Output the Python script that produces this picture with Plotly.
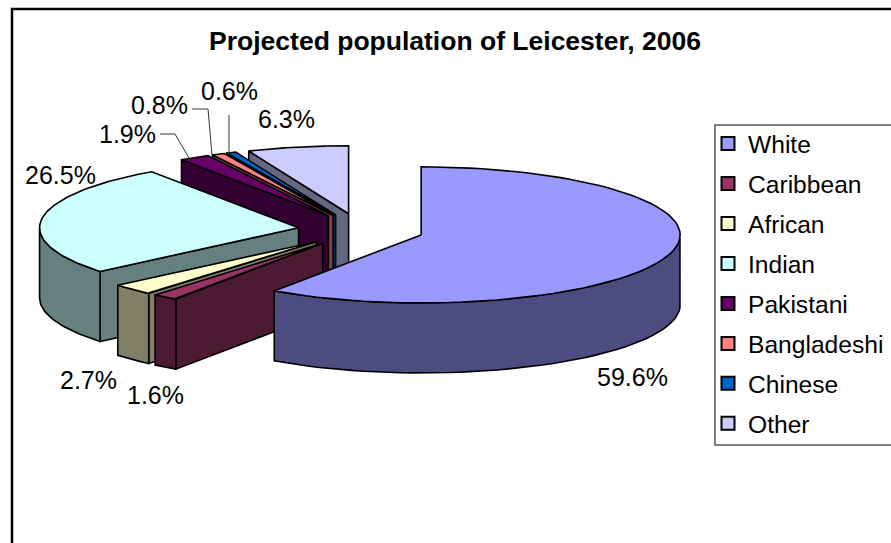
import numpy as np
import plotly.graph_objects as go

title = "Projected population of Leicester, 2006"
categories = ["White", "Caribbean", "African", "Indian", "Pakistani", "Bangladeshi", "Chinese", "Other"]
values = [59.6, 1.6, 2.7, 26.5, 1.9, 0.8, 0.6, 6.3]
labels = ["59.6%", "1.6%", "2.7%", "26.5%", "1.9%", "0.8%", "0.6%", "6.3%"]
top_colors = ["#9999FF", "#993366", "#FFFFCC", "#CCFFFF", "#660066", "#FF8080", "#0066CC", "#CCCCFF"]
side_colors = ["#4C4C80", "#4C1A33", "#808066", "#668080", "#330033", "#804040", "#003366", "#666680"]
label_xy = [(632, 377), (155, 395), (88, 380), (60, 175), (127, 134), (159, 105), (229, 91), (286, 119)]
font = "Liberation Sans, Arial, sans-serif"

# pie projection, in axis units (the axes map 1:1 to the page)
CX, CY, RX, RY, DEPTH, EXPLODE = 361, 230, 259, 68, 70, 63

def ell(angle, cx, cy):
    return cx + RX * np.sin(angle), cy - RY * np.cos(angle)

fractions = np.array(values) / sum(values)
edges = np.concatenate([[0], np.cumsum(fractions)]) * 2 * np.pi

fig = go.Figure()

def poly(xs, ys, color, name):
    fig.add_trace(go.Scatter(
        x=list(xs) + [xs[0]], y=list(ys) + [ys[0]], mode="lines", fill="toself", fillcolor=color,
        line=dict(color="black", width=1.6), showlegend=False, hoverinfo="text", text=name))

# painter's order, back to front
order = [7, 6, 5, 4, 3, 2, 1, 0]
for i in order:
    a0, a1 = edges[i], edges[i + 1]
    mid = (a0 + a1) / 2
    ax = CX + EXPLODE * np.sin(mid)
    ay = CY - EXPLODE * RY / RX * np.cos(mid)
    t = np.linspace(a0, a1, 80)
    x, y = ell(t, ax, ay)
    name = f"{categories[i]}: {labels[i]}"
    # radial walls that face the viewer
    if np.sin(a0) < 0:
        poly([ax, x[0], x[0], ax], [ay, y[0], y[0] + DEPTH, ay + DEPTH], side_colors[i], name)
    if np.sin(a1) > 0:
        poly([ax, x[-1], x[-1], ax], [ay, y[-1], y[-1] + DEPTH, ay + DEPTH], side_colors[i], name)
    # outer wall, front half only
    front = (t > np.pi / 2) & (t < 3 * np.pi / 2)
    if front.sum() > 1:
        fx, fy = x[front], y[front]
        poly(list(fx) + list(fx[::-1]), list(fy) + list(fy[::-1] + DEPTH), side_colors[i], name)
    poly([ax] + list(x), [ay] + list(y), top_colors[i], name)

# legend entries
for c, col in zip(categories, top_colors):
    fig.add_trace(go.Scatter(
        x=[None], y=[None], mode="markers", name=c, legendgroup=c,
        marker=dict(symbol="square", size=13, color=col, line=dict(color="black", width=2))))

anns = [dict(x=p[0], y=p[1], text=t, showarrow=False, xanchor="center", yanchor="middle",
             font=dict(family=font, size=25, color="black")) for p, t in zip(label_xy, labels)]

def seg(pts, color="#333333", width=1):
    path = "M " + " L ".join(f"{a},{b}" for a, b in pts)
    return dict(type="path", path=path, line=dict(color=color, width=width), layer="above")

shapes = [
    seg([(12, 543), (12, 9), (891, 9)], "black", 2.5),
    dict(type="rect", x0=715, y0=125, x1=900, y1=445, line=dict(color="#555555", width=1.5), layer="below"),
    seg([(160, 134), (175, 134), (189, 158)]),
    seg([(192, 109), (208, 109), (212, 155)]),
    seg([(229, 115), (229, 155)]),
]

fig.update_layout(
    width=891, height=543, margin=dict(l=0, r=0, t=0, b=0, autoexpand=False),
    paper_bgcolor="white", plot_bgcolor="white",
    title=dict(text=f"<b>{title}</b>", x=455 / 891, xanchor="center", y=1 - 41 / 543, yanchor="middle",
               font=dict(family=font, size=26.5, color="black")),
    xaxis=dict(range=[0, 891], visible=False, fixedrange=True),
    yaxis=dict(range=[543, 0], visible=False, fixedrange=True),
    legend=dict(x=708 / 891, y=1 - 121 / 543, xanchor="left", yanchor="top", traceorder="grouped",
                tracegroupgap=5, bgcolor="rgba(0,0,0,0)", font=dict(family=font, size=24.6, color="black")),
    annotations=anns, shapes=shapes,
)
fig.write_html("out.html", config={"displayModeBar": False},
               post_script="document.body.style.margin='0';document.documentElement.style.overflow='hidden';")
